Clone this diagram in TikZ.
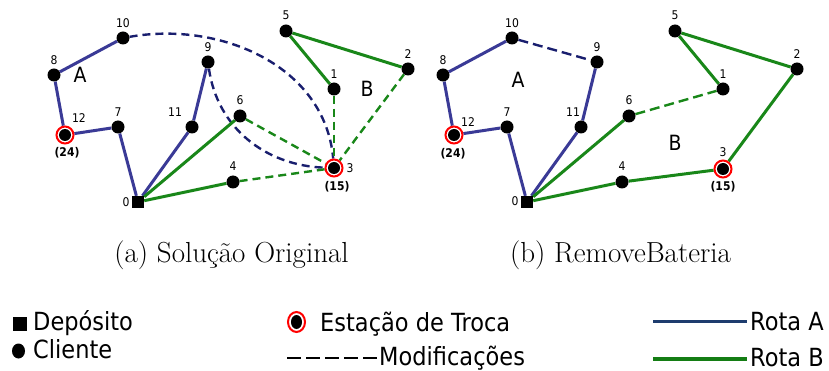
\documentclass[tikz,border=0pt]{standalone}
\usepackage{fontspec}
\newfontfamily\cond{DejaVu Sans}[FakeStretch=0.9]
\usetikzlibrary{backgrounds,shapes.geometric}

\definecolor{routeA}{RGB}{58,58,150}
\definecolor{modA}{RGB}{25,30,110}
\definecolor{legA}{RGB}{30,60,110}
\definecolor{routeB}{RGB}{25,135,25}
\definecolor{legB}{RGB}{20,125,20}

\tikzset{
  client/.style={circle, fill=black, inner sep=0pt, minimum size=13pt},
  depot/.style={rectangle, fill=black, inner sep=0pt, minimum size=12pt},
  station/.style={circle, draw=red, line width=2pt, fill=white, inner sep=0pt,
    minimum size=17pt,
    path picture={\fill[black] (path picture bounding box.center) circle (6pt);}},
  num/.style={inner sep=0pt, font=\cond\fontsize{12}{14}\selectfont},
  boldnum/.style={inner sep=0pt, font=\cond\bfseries\fontsize{12}{14}\selectfont},
  big/.style={inner sep=0pt, font=\cond\fontsize{21}{24}\selectfont},
  subcap/.style={inner sep=0pt, font=\fontsize{29}{32}\selectfont},
  legtxt/.style={inner sep=0pt, anchor=base west, font=\cond\fontsize{25}{28}\selectfont},
  ra/.style={draw=routeA, line width=3pt},
  rb/.style={draw=routeB, line width=3pt},
  ma/.style={draw=modA, line width=2.4pt, dash pattern=on 8pt off 5pt},
  mb/.style={draw=routeB, line width=2.4pt, dash pattern=on 8pt off 5pt},
}

\begin{document}
\begin{tikzpicture}[x=1pt, y=-1pt]
\useasboundingbox (0,0) rectangle (829,371);

% ---------- (a) original solution ----------
\node[depot]   (L0)  at (138,202) {};
\node[client]  (L1)  at (334,89)  {};
\node[client]  (L2)  at (408,69)  {};
\node[station] (L3)  at (334,168) {};
\node[client]  (L4)  at (233,182) {};
\node[client]  (L5)  at (286,31)  {};
\node[client]  (L6)  at (240,116) {};
\node[client]  (L7)  at (118,127) {};
\node[client]  (L8)  at (54,75)   {};
\node[client]  (L9)  at (208,62)  {};
\node[client]  (L10) at (123,38)  {};
\node[client]  (L11) at (192,127) {};
\node[station] (L12) at (65,135)  {};

\node[num] (L0t)  at (126,202) {0};
\node[num] (L1t)  at (334,74)  {1};
\node[num] (L2t)  at (408,54)  {2};
\node[num] (L3t)  at (350,168) {3};
\node[num] (L4t)  at (233,166) {4};
\node[num] (L5t)  at (286,15)  {5};
\node[num] (L6t)  at (240,100) {6};
\node[num] (L7t)  at (118,112) {7};
\node[num] (L8t)  at (54,60)   {8};
\node[num] (L9t)  at (208,47)  {9};
\node[num] (L10t) at (123,23)  {10};
\node[num] (L11t) at (175,112) {11};
\node[num] (L12t) at (79,118)  {12};
\node[boldnum] (L3c)  at (337,187) {(15)};
\node[boldnum] (L12c) at (67,153)  {(24)};
\node[big] (LA)   at (80,75)   {A};
\node[big] (LB)   at (367,89)  {B};

\begin{scope}[on background layer]
  \draw[ra] (L0) -- (L7) -- (L12) -- (L8) -- (L10);
  \draw[ra] (L0) -- (L11) -- (L9);
  \draw[ma] (L10) to[out=10, in=95] (L3);
  \draw[ma] (L9) to[out=-82, in=178] (L3);
  \draw[rb] (L0) -- (L6);
  \draw[rb] (L0) -- (L4);
  \draw[rb] (L1) -- (L5) -- (L2);
  \draw[mb] (L6) -- (L3);
  \draw[mb] (L4) -- (L3);
  \draw[mb] (L1) -- (L3);
  \draw[mb] (L2) -- (L3);
\end{scope}

% ---------- (b) RemoveBateria ----------
\node[depot]   (R0)  at (527,202) {};
\node[client]  (R1)  at (723,89)  {};
\node[client]  (R2)  at (797,69)  {};
\node[station] (R3)  at (723,169) {};
\node[client]  (R4)  at (622,182) {};
\node[client]  (R5)  at (675,31)  {};
\node[client]  (R6)  at (629,116) {};
\node[client]  (R7)  at (507,127) {};
\node[client]  (R8)  at (443,75)  {};
\node[client]  (R9)  at (597,62)  {};
\node[client]  (R10) at (512,38)  {};
\node[client]  (R11) at (581,127) {};
\node[station] (R12) at (454,135) {};

\node[num] (R0t)  at (515,201) {0};
\node[num] (R1t)  at (723,74)  {1};
\node[num] (R2t)  at (797,54)  {2};
\node[num] (R3t)  at (723,152) {3};
\node[num] (R4t)  at (622,166) {4};
\node[num] (R5t)  at (675,15)  {5};
\node[num] (R6t)  at (629,100) {6};
\node[num] (R7t)  at (507,112) {7};
\node[num] (R8t)  at (443,60)  {8};
\node[num] (R9t)  at (597,47)  {9};
\node[num] (R10t) at (512,23)  {10};
\node[num] (R11t) at (573,112) {11};
\node[num] (R12t) at (468,122) {12};
\node[boldnum] (R3c)  at (723,187) {(15)};
\node[boldnum] (R12c) at (453,154) {(24)};
\node[big] (RA)   at (518,80)  {A};
\node[big] (RB)   at (675,143) {B};

\begin{scope}[on background layer]
  \draw[ra] (R0) -- (R7) -- (R12) -- (R8) -- (R10);
  \draw[ra] (R0) -- (R11) -- (R9);
  \draw[ma, dash pattern=on 10pt off 5pt] (R10) -- (R9);
  \draw[rb] (R0) -- (R6);
  \draw[rb] (R0) -- (R4) -- (R3) -- (R2) -- (R5) -- (R1);
  \draw[mb, dash pattern=on 10pt off 5pt] (R6) -- (R1);
\end{scope}

% ---------- captions ----------
\node[subcap] (capa) at (231.5,255) {(a) Solução Original};
\node[subcap] (capb) at (620.5,255) {(b) RemoveBateria};

% ---------- legend ----------
\node[depot, minimum size=14pt] (kdepot) at (19.5,324) {};
\node[ellipse, fill=black, inner sep=0pt, minimum width=13pt, minimum height=15pt] (kclient) at (18.5,351) {};
\node[station, minimum width=17pt, minimum height=20pt, ellipse,
  path picture={\fill[black] (path picture bounding box.center) ellipse (5.5pt and 7pt);}] (kstation) at (296.5,322) {};
\node[legtxt] (tdepot)   at (33,330)  {Depósito};
\node[legtxt] (tclient)  at (33,358)  {Cliente};
\node[legtxt] (tstation) at (320,331) {Estação de Troca};
\node[legtxt] (tmod)     at (379,365) {Modificações};
\node[legtxt] (trotaA)   at (750,330) {Rota A};
\node[legtxt] (trotaB)   at (750,366) {Rota B};

\coordinate (mods) at (287,358);
\coordinate (moda) at (378,358);
\coordinate (las)  at (653,321);
\coordinate (lae)  at (747,321);
\coordinate (lbs)  at (653,359);
\coordinate (lbe)  at (747,359);
\draw[black, line width=2.5pt, dash pattern=on 14pt off 5pt] (mods) -- (moda);
\draw[legA, line width=3pt] (las) -- (lae);
\draw[legB, line width=3.5pt] (lbs) -- (lbe);
\end{tikzpicture}
\end{document}
